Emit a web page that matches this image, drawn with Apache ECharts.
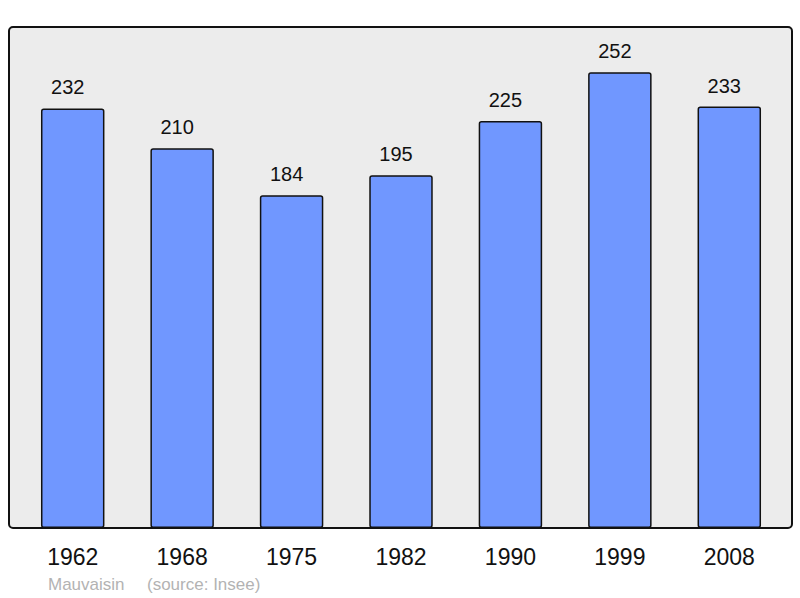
<!DOCTYPE html>
<html><head><meta charset="utf-8">
<script src="https://cdn.jsdelivr.net/npm/echarts@6/dist/echarts.min.js"></script>
<style>html,body{margin:0;padding:0;background:#fff}#c{width:800px;height:598px}</style>
</head><body><div id="c"></div>
<script>
const years = ['1962','1968','1975','1982','1990','1999','2008'];
const population = [232,210,184,195,225,252,233];
const footerName = 'Mauvaisin';
const footerSource = '(source: Insee)';

const FONT = '"Liberation Sans", Arial, sans-serif';
const chart = echarts.init(document.getElementById('c'), null, {renderer:'svg'});
chart.setOption({
  animation:false,
  backgroundColor:'#ffffff',
  graphic:[
    {type:'rect', z:-10, shape:{x:9,y:27,width:783,height:501,r:4},
     style:{fill:'#ececec', stroke:'#111', lineWidth:2}},
    {type:'text', left:48, top:576, style:{text:footerName, fill:'#b3b3b3', font:'17px ' + FONT}},
    {type:'text', left:147, top:576, style:{text:footerSource, fill:'#b3b3b3', font:'17px ' + FONT}}
  ],
  grid:{left:18, right:16, top:27, bottom:70, containLabel:false},
  xAxis:{type:'category', data:years,
    axisLine:{show:false}, axisTick:{show:false},
    axisLabel:{color:'#111', fontSize:23, fontFamily:FONT, margin:17}},
  yAxis:{type:'value', min:0, max:277, show:false, splitLine:{show:false}},
  series:[{type:'bar', data:population, barWidth:'58%',
    itemStyle:{color:'#7097ff', borderColor:'#111', borderWidth:1.5, borderRadius:2},
    label:{show:true, position:'top', distance:11, offset:[-5,0], color:'#111', fontSize:20, fontFamily:FONT}}]
});
</script></body></html>
